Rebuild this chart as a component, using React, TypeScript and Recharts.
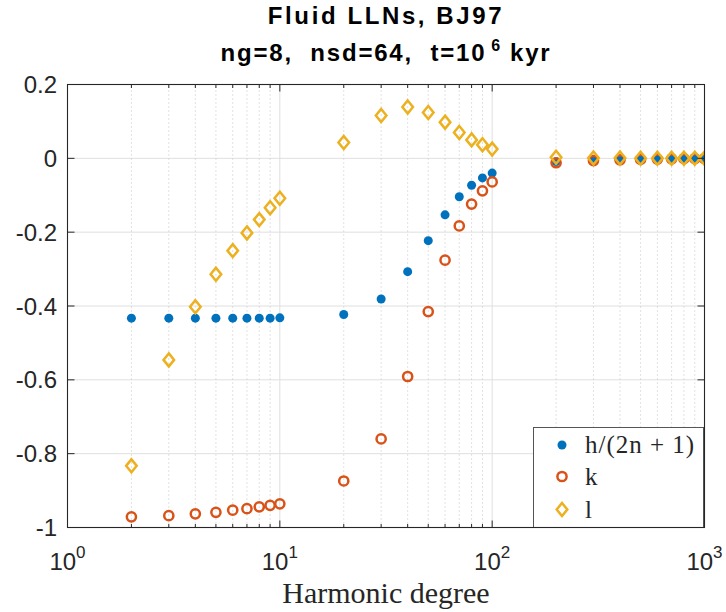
import React from "react";
import {
  ScatterChart,
  Scatter,
  XAxis,
  YAxis,
  CartesianGrid,
  ReferenceLine,
  Legend,
} from "recharts";

// ---------- data ----------
const degrees = [2, 3, 4, 5, 6, 7, 8, 9, 10, 20, 30, 40, 50, 60, 70, 80, 90, 100, 200, 300, 400, 500, 600, 700, 800, 900, 1000];

const hValues = [
  -0.433, -0.433, -0.433, -0.433, -0.433, -0.433, -0.433, -0.433, -0.432,
  -0.423, -0.381, -0.307, -0.223, -0.153, -0.104, -0.073, -0.053, -0.040,
  -0.009, -0.004, -0.003, -0.002, -0.0015, -0.001, -0.001, -0.001, -0.0005,
];

const kValues = [
  -0.971, -0.968, -0.963, -0.959, -0.953, -0.949, -0.944, -0.94, -0.936,
  -0.874, -0.76, -0.591, -0.415, -0.276, -0.183, -0.124, -0.088, -0.064,
  -0.012, -0.006, -0.004, -0.003, -0.002, -0.0015, -0.001, -0.001, -0.001,
];

const lValues = [
  -0.833, -0.546, -0.402, -0.314, -0.25, -0.202, -0.166, -0.134, -0.108,
  0.043, 0.116, 0.139, 0.124, 0.098, 0.07, 0.05, 0.037, 0.025,
  0.003, 0.001, 0.001, 0.0, 0.0, 0.0, 0.0, 0.0, 0.0,
];

const seriesNames = ["h/(2n + 1)", "k", "l"];
const majorXTicks = [1, 10, 100, 1000];
const minorXTicks = [2, 3, 4, 5, 6, 7, 8, 9, 20, 30, 40, 50, 60, 70, 80, 90, 200, 300, 400, 500, 600, 700, 800, 900];
const yTicks = [-1, -0.8, -0.6, -0.4, -0.2, 0, 0.2];

const titleLine1 = "Fluid LLNs, BJ97";
const titleLine2a = "ng=8, nsd=64, t=10";
const titleLine2sup = "6";
const titleLine2b = "kyr";
const xLabel = "Harmonic degree";

// ---------- styling / layout ----------
const BLUE = "#0072BD";
const ORANGE = "#D95319";
const YELLOW = "#EDB120";
const AXIS = "#262626";
const SANS = "'Liberation Sans', Arial, Helvetica, sans-serif";
const SERIF = "'Liberation Serif', 'Times New Roman', serif";

const W = 726;
const H = 612;
const PLOT = { left: 67.5, top: 84.5, right: 704.5, bottom: 527.5 };
const PLOT_W = PLOT.right - PLOT.left;
const PLOT_H = PLOT.bottom - PLOT.top;
// bottom x-axis and left y-axis each take 1px
const M = { top: PLOT.top, right: W - PLOT.right, bottom: H - PLOT.bottom - 1, left: PLOT.left - 1 };

const toRows = (vals: number[]) => degrees.map((n, i) => ({ x: n, y: vals[i] }));
const hData = toRows(hValues);
const kData = toRows(kValues);
const lData = toRows(lValues);
const allXTicks = [...majorXTicks, ...minorXTicks].sort((a, b) => a - b);
const X_MIN = majorXTicks[0];
const X_MAX = majorXTicks[majorXTicks.length - 1];
const Y_MIN = yTicks[0];
const Y_MAX = yTicks[yTicks.length - 1];

const isMajor = (v: number) => majorXTicks.includes(v);

// bottom tick: inward tick at bottom + mirrored inward tick at top + label
const BottomTick = (props: any) => {
  const { x, y, payload } = props;
  const v = payload.value;
  const major = isMajor(v);
  const len = major ? 7 : 3.5;
  const exp = Math.round(Math.log10(v));
  const top = y - PLOT_H;
  return (
    <g>
      <line x1={x} x2={x} y1={y} y2={y - len} stroke={AXIS} strokeWidth={1} />
      <line x1={x} x2={x} y1={top} y2={top + len} stroke={AXIS} strokeWidth={1} />
      {major && (
        <text x={x} y={y + 42.5} textAnchor="middle" fontFamily={SANS} fontSize={24} fill={AXIS}>
          10
          <tspan dy={-12} fontSize={17}>{exp}</tspan>
        </text>
      )}
    </g>
  );
};

const fmtY = (v: number) => {
  const r = Math.round(v * 10) / 10;
  return r === 0 ? "0" : String(r);
};

// left tick: inward tick at left + mirrored inward tick at right + label
const LeftTick = (props: any) => {
  const { x, y, payload } = props;
  const right = x + PLOT_W;
  return (
    <g>
      <line x1={x} x2={x + 7} y1={y} y2={y} stroke={AXIS} strokeWidth={1} />
      <line x1={right} x2={right - 7} y1={y} y2={y} stroke={AXIS} strokeWidth={1} />
      <text x={x - 10.5} y={y + 8.5} textAnchor="end" fontFamily={SANS} fontSize={24} fill={AXIS}>
        {fmtY(payload.value)}
      </text>
    </g>
  );
};

const Dot = (props: any) => {
  const { cx, cy } = props;
  if (cx == null || cy == null) return null;
  return <circle cx={cx} cy={cy} r={4.5} fill={BLUE} />;
};

const Ring = (props: any) => {
  const { cx, cy } = props;
  if (cx == null || cy == null) return null;
  return <circle cx={cx} cy={cy} r={4.6} fill="none" stroke={ORANGE} strokeWidth={2.5} />;
};

const Diamond = (props: any) => {
  const { cx, cy } = props;
  if (cx == null || cy == null) return null;
  const a = 5.3;
  const b = 6.5;
  return (
    <path
      d={`M${cx},${cy - b} L${cx + a},${cy} L${cx},${cy + b} L${cx - a},${cy} Z`}
      fill="none"
      stroke={YELLOW}
      strokeWidth={2.5}
      strokeLinejoin="miter"
    />
  );
};

const markerFor = (i: number, cx: number, cy: number) => {
  if (i === 0) return <Dot cx={cx} cy={cy} />;
  if (i === 1) return <Ring cx={cx} cy={cy} />;
  return <Diamond cx={cx} cy={cy} />;
};

const LegendBox = () => (
  <div
    style={{
      width: 171,
      height: 101,
      boxSizing: "border-box",
      border: "1px solid #555",
      background: "#fff",
    }}
  >
    <svg width={169} height={99} style={{ display: "block" }}>
      {seriesNames.map((name, i) => {
        const cy = [17, 48.5, 81.5][i];
        return (
          <g key={name}>
            {markerFor(i, 28, cy)}
            <text x={51} y={cy + 8} fontFamily={SERIF} fontSize={25} letterSpacing={1} fill={AXIS}>
              {name}
            </text>
          </g>
        );
      })}
    </svg>
  </div>
);

const axisCommon = {
  type: "number" as const,
  allowDataOverflow: true,
  interval: 0 as const,
  tickSize: 0,
  tickMargin: 0,
  tickLine: false,
  axisLine: { stroke: AXIS },
};

export default function App() {
  const cx = PLOT.left + PLOT_W / 2;
  return (
    <div style={{ position: "absolute", left: 0, top: 0, width: W, height: H, background: "#fff" }}>
      <ScatterChart width={W} height={H} margin={M}>
        <CartesianGrid vertical={false} stroke="#dfdfdf" strokeWidth={1} />
        {minorXTicks.map((v) => (
          <ReferenceLine key={`m${v}`} x={v} stroke="#c4c4c4" strokeWidth={1} strokeDasharray="1 3" />
        ))}
        {[10, 100].map((v) => (
          <ReferenceLine key={`M${v}`} x={v} stroke="#dfdfdf" strokeWidth={1} />
        ))}
        <XAxis
          {...axisCommon}
          dataKey="x"
          scale="log"
          domain={[X_MIN, X_MAX]}
          ticks={allXTicks}
          height={1}
          tick={<BottomTick />}
        />
        <YAxis
          {...axisCommon}
          dataKey="y"
          domain={[Y_MIN, Y_MAX]}
          ticks={yTicks}
          width={1}
          tick={<LeftTick />}
        />
        <Scatter name={seriesNames[0]} data={hData} shape={<Dot />} isAnimationActive={false} />
        <Scatter name={seriesNames[1]} data={kData} shape={<Ring />} isAnimationActive={false} />
        <Scatter name={seriesNames[2]} data={lData} shape={<Diamond />} isAnimationActive={false} />
        <Legend
          layout="vertical"
          align="center"
          verticalAlign="middle"
          wrapperStyle={{ position: "absolute", left: 533, top: 426.5, width: 171.5, height: 101 }}
          content={() => <LegendBox />}
        />
      </ScatterChart>
      <svg
        width={W}
        height={H}
        style={{ position: "absolute", left: 0, top: 0, pointerEvents: "none", zIndex: 10 }}
      >
        <rect
          x={PLOT.left}
          y={PLOT.top}
          width={PLOT_W}
          height={PLOT_H}
          fill="none"
          stroke={AXIS}
          strokeWidth={1.1}
        />
        <text x={cx} y={23.5} textAnchor="middle" fontFamily={SANS} fontWeight="bold" fontSize={24} letterSpacing={2.6} fill="#000">
          {titleLine1}
        </text>
        <text x={cx} y={61} textAnchor="middle" fontFamily={SANS} fontWeight="bold" fontSize={24} letterSpacing={1.8} wordSpacing={9} fill="#000">
          {titleLine2a}
          <tspan dx={5} dy={-10} fontSize={16}>{titleLine2sup}</tspan>
          <tspan dx={8} dy={10}>{titleLine2b}</tspan>
        </text>
        <text x={cx} y={603} textAnchor="middle" fontFamily={SERIF} fontSize={30} fill={AXIS}>
          {xLabel}
        </text>
      </svg>
    </div>
  );
}
